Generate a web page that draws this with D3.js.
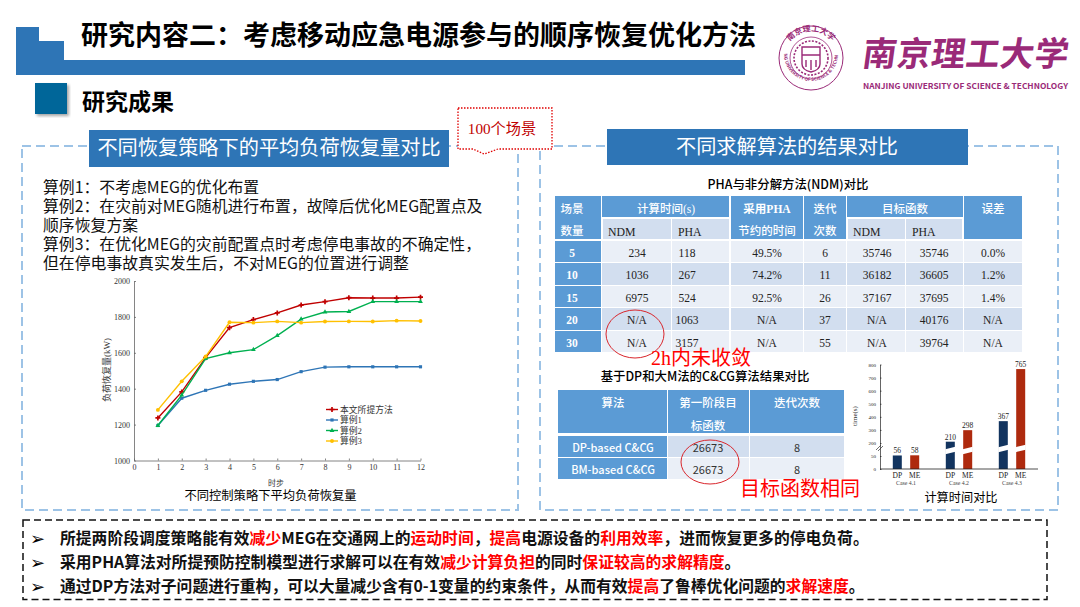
<!DOCTYPE html>
<html>
<head>
<meta charset="utf-8">
<script src="https://cdn.jsdelivr.net/npm/d3@7"></script>
<style>
  html, body { margin: 0; padding: 0; background: #fff; overflow: hidden; }
  svg { display: block; }
  text { font-family: "Noto Sans CJK SC", sans-serif; }
  .serif, .serif text { font-family: "Liberation Serif", "Noto Sans CJK SC", serif; }
</style>
</head>
<body>
<svg id="slide" width="1080" height="607"></svg>
<script>
// line chart data
const timeSteps = [1, 2, 3, 4, 5, 6, 7, 8, 9, 10, 11, 12];
const proposed = [1237, 1382, 1573, 1740, 1785, 1822, 1866, 1885, 1907, 1905, 1905, 1910];
const case1 = [1195, 1347, 1391, 1425, 1441, 1451, 1495, 1520, 1522, 1522, 1522, 1522];
const case2 = [1195, 1364, 1568, 1600, 1618, 1696, 1788, 1827, 1830, 1885, 1885, 1885];
const case3 = [1282, 1441, 1579, 1770, 1768, 1775, 1768, 1774, 1775, 1774, 1779, 1777];
const seriesNames = ['本文所提方法', '算例1', '算例2', '算例3'];

// PHA table
const scenarioCounts = ['5', '10', '15', '20', '30'];
const ndmTime = ['234', '1036', '6975', 'N/A', 'N/A'];
const phaTime = ['118', '267', '524', '1063', '3157'];
const savedTime = ['49.5%', '74.2%', '92.5%', 'N/A', 'N/A'];
const iterations = ['6', '11', '26', '37', '55'];
const ndmObjective = ['35746', '36182', '37167', 'N/A', 'N/A'];
const phaObjective = ['35746', '36605', '37695', '40176', '39764'];
const errors = ['0.0%', '1.2%', '1.4%', 'N/A', 'N/A'];

// C&CG table
const algorithms = ['DP-based C&CG', 'BM-based C&CG'];
const firstStageObjective = ['26673', '26673'];
const ccgIterations = ['8', '8'];

// bar chart data
const barCases = ['Case 4.1', 'Case 4.2', 'Case 4.3'];
const dpTimes = [56, 210, 367];
const meTimes = [58, 298, 765];
const barTicks = [0, 50, 200, 300, 400, 500, 600, 700, 800];

// text
const exampleLines = [
  '算例1：不考虑MEG的优化布置',
  '算例2：在灾前对MEG随机进行布置，故障后优化MEG配置点及',
  '顺序恢复方案',
  '算例3：在优化MEG的灾前配置点时考虑停电事故的不确定性，',
  '但在停电事故真实发生后，不对MEG的位置进行调整'
];
const bullets = [
  [['所提两阶段调度策略能有效'], ['减少', 1], ['MEG在交通网上的'], ['运动时间', 1], ['，'], ['提高', 1], ['电源设备的'], ['利用效率', 1], ['，进而恢复更多的停电负荷。']],
  [['采用PHA算法对所提预防控制模型进行求解可以在有效'], ['减少计算负担', 1], ['的同时'], ['保证较高的求解精度', 1], ['。']],
  [['通过DP方法对子问题进行重构，可以大量减少含有0-1变量的约束条件，从而有效'], ['提高', 1], ['了鲁棒优化问题的'], ['求解速度', 1], ['。']]
];

const BLUE = '#2e75b6', HEAD = '#5b9bd5', BAND_D = '#d2deef', BAND_L = '#eaeff7', DASH = '#9dc3e6', RED = '#ff0000';
const svg = d3.select('#slide');

// Noto sits a little low with a central baseline, so nudge it up
const label = (parent, x, y, str, size, opts = {}) => parent.append('text')
  .attr('x', x).attr('y', opts.serif ? y : y - size * 0.07)
  .attr('dominant-baseline', 'central')
  .attr('text-anchor', opts.anchor || 'start')
  .attr('class', opts.serif ? 'serif' : null)
  .attr('font-size', size)
  .attr('font-weight', opts.weight || 400)
  .attr('fill', opts.fill || '#000')
  .text(str);

// page header
svg.append('path')
  .attr('d', 'M16,27H39V41H64V60H745V75H16Z')
  .attr('fill', BLUE);
label(svg, 81, 35, '研究内容二：考虑移动应急电源参与的顺序恢复优化方法', 27, { weight: 700 });

const defs = svg.append('defs');
const shadow = defs.append('filter').attr('id', 'soft');
shadow.append('feDropShadow').attr('dx', 2).attr('dy', 2).attr('stdDeviation', 1.5).attr('flood-opacity', 0.35);
svg.append('rect').attr('x', 35).attr('y', 83).attr('width', 32).attr('height', 31)
  .attr('fill', '#006699').attr('filter', 'url(#soft)');
label(svg, 82, 102, '研究成果', 23, { weight: 700 });

// logo
const logoColor = '#9a2a78';
const seal = svg.append('g').attr('transform', 'translate(811,58)').attr('fill', 'none').attr('stroke', logoColor);
seal.append('circle').attr('r', 32).attr('stroke-width', 1);
seal.append('circle').attr('r', 21).attr('stroke-width', 0.8);
seal.append('circle').attr('r', 17).attr('stroke-width', 1.6).attr('stroke-dasharray', '2,1.5');
seal.append('path').attr('d', 'M-9,-11H9V6Q9,12 0,14Q-9,12 -9,6Z').attr('stroke-width', 1.4);
seal.append('path').attr('d', 'M-9,-3H9M-5,2V9M0,2V12M5,2V9').attr('stroke-width', 1.4);
defs.append('path').attr('id', 'sealLow').attr('d', 'M-27,-4A27,27 0 1 0 27,-4');
defs.append('path').attr('id', 'sealTop').attr('d', 'M-24,-12A27,27 0 0 1 24,-12');
seal.append('text').attr('fill', logoColor).attr('stroke', 'none').attr('font-size', 4.6).attr('font-weight', 700)
  .append('textPath').attr('href', '#sealLow').attr('startOffset', '50%').attr('text-anchor', 'middle')
  .text('NANJING UNIVERSITY OF SCIENCE & TECHNOLOGY');
seal.append('text').attr('fill', logoColor).attr('stroke', 'none').attr('font-size', 8).attr('font-weight', 700)
  .append('textPath').attr('href', '#sealTop').attr('startOffset', '50%').attr('text-anchor', 'middle')
  .text('南京理工大学');
label(svg, 0, 0, '南京理工大学', 34, { weight: 700, fill: logoColor })
  .attr('transform', 'translate(863,53) skewX(-8)')
  .attr('textLength', 206).attr('lengthAdjust', 'spacing');
label(svg, 863, 86, 'NANJING UNIVERSITY OF SCIENCE & TECHNOLOGY', 8, { weight: 700, fill: logoColor })
  .attr('textLength', 205).attr('lengthAdjust', 'spacingAndGlyphs');

// panels
const panel = (x, y, w, h) => svg.append('rect')
  .attr('x', x).attr('y', y).attr('width', w).attr('height', h)
  .attr('fill', 'none').attr('stroke', DASH).attr('stroke-width', 2).attr('stroke-dasharray', '9,5');
panel(22, 146, 496, 364);
panel(540, 146, 518, 364);
svg.append('rect').attr('x', 89).attr('y', 130).attr('width', 360).attr('height', 37).attr('fill', BLUE);
label(svg, 269, 148, '不同恢复策略下的平均负荷恢复量对比', 20.2, { anchor: 'middle', fill: '#fff' });
svg.append('rect').attr('x', 607).attr('y', 129).attr('width', 361).attr('height', 36).attr('fill', BLUE);
label(svg, 787, 147, '不同求解算法的结果对比', 20.2, { anchor: 'middle', fill: '#fff' });

// callout
svg.append('path')
  .attr('d', 'M458,108H552V149H498L484,154L473,149H458Z')
  .attr('fill', '#fff').attr('stroke', '#e00000').attr('stroke-width', 1.3).attr('stroke-dasharray', '1.5,1.5');
label(svg, 502, 128, '100个场景', 15.2, { anchor: 'middle', serif: true, fill: '#c00000' });

// example descriptions
const exampleY = d3.scalePoint().domain(d3.range(exampleLines.length)).range([188, 264]);
exampleLines.forEach((line, i) => label(svg, 43, exampleY(i), line, 15.85, { fill: '#111' }));

// line chart
const xLine = d3.scaleLinear().domain([0, 12]).range([134, 420.5]);
const yLine = d3.scaleLinear().domain([1000, 2000]).range([460.5, 281]);
const lineSeries = [
  { values: proposed, color: '#c00000', mark: d3.symbolCross, size: 14 },
  { values: case1, color: '#2e75b6', mark: d3.symbolSquare, size: 10 },
  { values: case2, color: '#00b050', mark: d3.symbolTriangle, size: 10 },
  { values: case3, color: '#ffc000', mark: d3.symbolCircle, size: 12 }
];
const gx = svg.append('g').attr('class', 'serif').attr('transform', 'translate(0,460.5)')
  .call(d3.axisBottom(xLine).ticks(12).tickSize(-2).tickPadding(4).tickSizeOuter(0));
const gy = svg.append('g').attr('class', 'serif').attr('transform', 'translate(134,0)')
  .call(d3.axisLeft(yLine).tickValues(d3.range(1000, 2001, 200)).tickFormat(d3.format('d')).tickSize(-2).tickPadding(4).tickSizeOuter(0));
[gx, gy].forEach(g => {
  g.selectAll('text').attr('font-size', 8).attr('fill', '#333');
  g.selectAll('line,path').attr('stroke', '#666').attr('stroke-width', 0.8);
});
label(svg, 0, 0, '负荷恢复量(kW)', 9, { anchor: 'middle', serif: true, fill: '#333' })
  .attr('transform', 'translate(107,370) rotate(-90)');
label(svg, 276, 483, '时步', 8, { anchor: 'middle', serif: true, fill: '#333' });

const linePath = d3.line().x((d, i) => xLine(timeSteps[i])).y(d => yLine(d));
lineSeries.forEach(s => {
  svg.append('path').attr('d', linePath(s.values))
    .attr('fill', 'none').attr('stroke', s.color).attr('stroke-width', 1.4);
  svg.append('g').selectAll('path').data(s.values).join('path')
    .attr('d', d3.symbol(s.mark, s.size))
    .attr('transform', (d, i) => `translate(${xLine(timeSteps[i])},${yLine(d)})`)
    .attr('fill', s.color);
});

// line legend
const legendY = d3.scalePoint().domain(seriesNames).range([409.5, 441]);
seriesNames.forEach((name, i) => {
  const s = lineSeries[i];
  svg.append('line').attr('x1', 326).attr('x2', 338).attr('y1', legendY(name)).attr('y2', legendY(name))
    .attr('stroke', s.color).attr('stroke-width', 1.4);
  svg.append('path').attr('d', d3.symbol(s.mark, s.size))
    .attr('transform', `translate(332,${legendY(name)})`).attr('fill', s.color);
  label(svg, 340, legendY(name), name, 8.8, { serif: true, fill: '#333' });
});
label(svg, 270.5, 496, '不同控制策略下平均负荷恢复量', 12.3, { anchor: 'middle' });

// PHA table
label(svg, 788, 185, 'PHA与非分解方法(NDM)对比', 12.4, { anchor: 'middle', weight: 500 });
const cell = (x0, x1, y0, y1, fill) => svg.append('rect')
  .attr('x', x0).attr('y', y0).attr('width', x1 - x0).attr('height', y1 - y0).attr('fill', fill);
const t1Cols = [[555, 601], [602, 671], [672, 729], [731, 803], [804, 846], [847, 905], [906, 963], [964, 1022]];
const t1Rows = [[241, 262], [263, 285], [286, 307], [308, 330], [331, 352]];
cell(555, 601, 196, 239, HEAD);
cell(602, 729, 196, 217, HEAD);
cell(731, 803, 196, 239, HEAD);
cell(804, 846, 196, 239, HEAD);
cell(847, 963, 196, 217, HEAD);
cell(964, 1022, 196, 239, HEAD);
cell(603, 671, 219, 239, BAND_D);
cell(672, 729, 219, 239, BAND_D);
cell(848, 905, 219, 239, BAND_D);
cell(906, 962, 219, 239, BAND_D);
const headW = { anchor: 'middle', fill: '#fff', weight: 500 };
label(svg, 572, 209, '场景', 11.5, headW);
label(svg, 572, 231, '数量', 11.5, headW);
label(svg, 666, 209, '计算时间(s)', 11.5, { ...headW, serif: true });
label(svg, 767, 209, '采用PHA', 11.5, { ...headW, serif: true, weight: 700 });
label(svg, 767, 231, '节约的时间', 11.5, headW);
label(svg, 825, 209, '迭代', 11.5, headW);
label(svg, 825, 231, '次数', 11.5, headW);
label(svg, 905, 209, '目标函数', 11.5, headW);
label(svg, 993, 209, '误差', 11.5, headW);
[[608, 'NDM'], [678, 'PHA'], [853, 'NDM'], [912, 'PHA']].forEach(([x, s]) =>
  label(svg, x, 232, s, 11.8, { serif: true, fill: '#222' }));

const t1Columns = [scenarioCounts, ndmTime, phaTime, savedTime, iterations, ndmObjective, phaObjective, errors];
const t1TextX = [572, 637, 687, 767, 825, 877, 934, 993];
t1Rows.forEach(([y0, y1], r) => {
  t1Cols.forEach(([x0, x1], c) => {
    cell(x0, x1, y0, y1, c === 0 ? HEAD : (r % 2 ? BAND_D : BAND_L));
    label(svg, t1TextX[c], (y0 + y1) / 2 + 1, t1Columns[c][r], 11.5, c === 0
      ? { anchor: 'middle', serif: true, fill: '#fff', weight: 700 }
      : { anchor: 'middle', serif: true, fill: '#222' });
  });
});
const marker = (cx, cy, rx, ry) => svg.append('ellipse')
  .attr('cx', cx).attr('cy', cy).attr('rx', rx).attr('ry', ry)
  .attr('fill', 'none').attr('stroke', '#d9262c').attr('stroke-width', 1);
marker(635, 334, 29, 24);
label(svg, 651, 358, '2h内未收敛', 20, { serif: true, fill: RED });

// C&CG table
label(svg, 705, 377, '基于DP和大M法的C&CG算法结果对比', 12.4, { anchor: 'middle', weight: 500 });
const t2Cols = [[558, 667], [668, 749], [750, 844]];
const t2Rows = [[436, 457], [458, 479]];
t2Cols.forEach(([x0, x1]) => cell(x0, x1, 390, 433, HEAD));
label(svg, 613, 403, '算法', 11.5, headW);
label(svg, 708, 403, '第一阶段目', 11.5, headW);
label(svg, 708, 426, '标函数', 11.5, headW);
label(svg, 797, 403, '迭代次数', 11.5, headW);
const t2Columns = [algorithms, firstStageObjective, ccgIterations];
const t2TextX = [613, 708, 797];
t2Rows.forEach(([y0, y1], r) => {
  t2Cols.forEach(([x0, x1], c) => {
    cell(x0, x1, y0, y1, c === 0 ? HEAD : (r % 2 ? BAND_L : BAND_D));
    label(svg, t2TextX[c], (y0 + y1) / 2 + 1, t2Columns[c][r], 11, c === 0
      ? { anchor: 'middle', fill: '#fff', weight: 500 }
      : { anchor: 'middle', fill: '#333' });
  });
});
marker(710, 462, 29, 22);
label(svg, 740, 489, '目标函数相同', 20, { fill: RED });

// bar chart, y axis is broken between 50 and 200
const yBar = d3.scaleLinear().domain([0, 50, 200, 800]).range([469, 456, 443, 364.5]);
const xCase = d3.scalePoint().domain(barCases).range([906, 1012]);
const barColors = { DP: '#12345f', ME: '#ae2a0e' };
const barOffset = { DP: -8.7, ME: 8.7 };
const barRows = barCases.flatMap((c, i) => [
  { group: c, name: 'DP', value: dpTimes[i] },
  { group: c, name: 'ME', value: meTimes[i] }
]);
const barX = d => xCase(d.group) + barOffset[d.name];
svg.append('g').selectAll('rect').data(barRows).join('rect')
  .attr('x', d => barX(d) - 4.5).attr('width', 9)
  .attr('y', d => yBar(d.value)).attr('height', d => 469 - yBar(d.value))
  .attr('fill', d => barColors[d.name]);
svg.append('g').selectAll('path').data(barRows.filter(d => d.value > 200)).join('path')
  .attr('d', d => {
    const x0 = barX(d) - 5, x1 = barX(d) + 5, mid = yBar(100) - (d.group === 'Case 4.3' ? 2 : 0);
    return `M${x0},${mid - 2.5}L${x1},${mid - 5}L${x1},${mid}L${x0},${mid + 2.5}Z`;
  })
  .attr('fill', '#fff');
svg.append('g').selectAll('text').data(barRows).join('text')
  .attr('class', 'serif').attr('x', barX).attr('y', d => yBar(d.value) - 2)
  .attr('text-anchor', 'middle').attr('font-size', 7.5).attr('fill', '#222')
  .text(d => d.value);
barRows.forEach(d => label(svg, barX(d), 475, d.name, 7.5, { anchor: 'middle', serif: true, fill: '#222' }));
barCases.forEach(c => label(svg, xCase(c), 483, c, 5.8, { anchor: 'middle', serif: true, fill: '#444' }));

const gBar = svg.append('g').attr('class', 'serif').attr('transform', 'translate(880,0)')
  .call(d3.axisLeft(yBar).tickValues(barTicks).tickFormat(d3.format('d')).tickSize(-1.5).tickPadding(4).tickSizeOuter(0));
gBar.selectAll('text').attr('font-size', 5).attr('fill', '#222');
gBar.selectAll('line,path').attr('stroke', '#222').attr('stroke-width', 0.7);
svg.append('path').attr('d', 'M876,450L881,445M878,451L883,446').attr('stroke', '#333').attr('stroke-width', 0.7);
svg.append('line').attr('x1', 880).attr('x2', 1038).attr('y1', 469).attr('y2', 469).attr('stroke', '#222').attr('stroke-width', 0.8);
label(svg, 0, 0, 'time(s)', 7, { anchor: 'middle', serif: true, fill: '#333' })
  .attr('transform', 'translate(855,416) rotate(-90)');
label(svg, 961, 498, '计算时间对比', 12.2, { anchor: 'middle' });

// summary box
svg.append('rect').attr('x', 23).attr('y', 520).attr('width', 1024).attr('height', 79.5)
  .attr('fill', 'none').attr('stroke', '#111').attr('stroke-width', 1.5).attr('stroke-dasharray', '7,4');
const bulletY = [538, 562, 586];
bullets.forEach((segments, i) => {
  svg.append('text').attr('x', 30).attr('y', bulletY[i]).attr('dominant-baseline', 'central')
    .attr('font-size', 18).attr('font-weight', 700).style('font-family', '"DejaVu Sans"').text('\u27A2');
  const line = svg.append('text').attr('x', 60).attr('y', bulletY[i] - 1)
    .attr('dominant-baseline', 'central').attr('font-size', 15.8).attr('font-weight', 700);
  segments.forEach(([str, hot]) => line.append('tspan').attr('fill', hot ? RED : '#111').text(str));
});
</script>
</body>
</html>
